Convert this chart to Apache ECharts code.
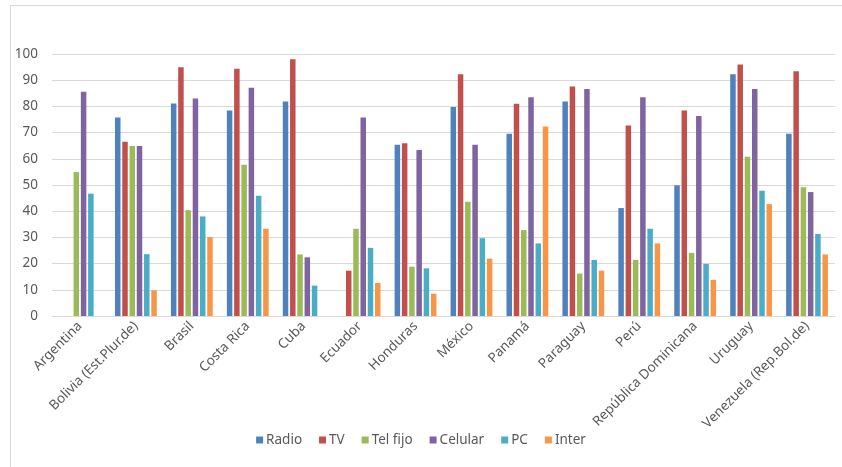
<!DOCTYPE html>
<html>
<head>
<meta charset="utf-8">
<script src="https://cdn.jsdelivr.net/npm/echarts@6/dist/echarts.min.js"></script>
<style>html,body{margin:0;padding:0;background:#fff;}#c{width:842px;height:467px;}</style>
</head>
<body>
<div id="c"></div>
<script>
var categories = ["Argentina","Bolivia (Est.Plur.de)","Brasil","Costa Rica","Cuba","Ecuador","Honduras","México","Panamá","Paraguay","Perú","República Dominicana","Uruguay","Venezuela (Rep.Bol.de)"];
var radio   = [null, 75.8, 81.1, 78.4, 81.9, null, 65.4, 79.8, 69.6, 81.9, 41.2, 49.9, 92.3, 69.6];
var tv      = [null, 66.5, 94.9, 94.4, 98.0, 17.3, 65.9, 92.3, 81.0, 87.6, 72.7, 78.4, 96.0, 93.4];
var telFijo = [55.0, 64.9, 40.4, 57.7, 23.5, 33.3, 18.8, 43.6, 32.8, 16.2, 21.4, 24.1, 60.8, 49.1];
var celular = [85.6, 64.9, 83.0, 87.1, 22.4, 75.8, 63.4, 65.4, 83.5, 86.6, 83.5, 76.3, 86.6, 47.3];
var pc      = [46.7, 23.6, 38.0, 45.9, 11.6, 26.0, 18.2, 29.7, 27.7, 21.4, 33.3, 19.9, 47.8, 31.3];
var inter   = [null, 9.8, 30.1, 33.3, null, 12.6, 8.5, 21.9, 72.3, 17.3, 27.7, 13.8, 42.7, 23.5];
var seriesNames = ["Radio","TV","Tel fijo","Celular","PC","Inter"];
var seriesData = [radio, tv, telFijo, celular, pc, inter];
var colors = ["#4F81BD","#C0504D","#9BBB59","#8064A2","#4BACC6","#F79646"];

var chart = echarts.init(document.getElementById('c'));
var font = "'Noto Sans', 'Open Sans', sans-serif";
chart.setOption({
  animation: false,
  color: colors,
  textStyle: {fontFamily: font},
  graphic: [{
    type: 'rect', shape: {x: 10.5, y: 5.5, width: 840, height: 470},
    style: {fill: 'none', stroke: '#d9d9d9', lineWidth: 1}, silent: true
  }],
  grid: {left: 52, right: 7, top: 54, bottom: 151, containLabel: false},
  legend: {
    bottom: 15, left: 'center',
    itemWidth: 7, itemHeight: 7, itemGap: 17,
    icon: 'rect',
    textStyle: {color: '#595959', fontSize: 13.5, fontFamily: font, padding: [0,0,0,-2]},
    data: seriesNames
  },
  xAxis: {
    type: 'category', data: categories,
    axisLine: {lineStyle: {color: '#d9d9d9'}},
    axisTick: {show: false},
    axisLabel: {rotate: 45, interval: 0, color: '#595959', fontSize: 13.5, fontFamily: font, margin: 8}
  },
  yAxis: {
    type: 'value', min: 0, max: 100, interval: 10,
    axisLine: {show: false}, axisTick: {show: false},
    splitLine: {lineStyle: {color: '#d9d9d9'}},
    axisLabel: {color: '#595959', fontSize: 13.5, fontFamily: font, margin: 14}
  },
  series: seriesNames.map(function(n, i){
    return {name: n, type: 'bar', data: seriesData[i], barWidth: 5.5, barGap: '32%'};
  })
});
</script>
</body>
</html>
